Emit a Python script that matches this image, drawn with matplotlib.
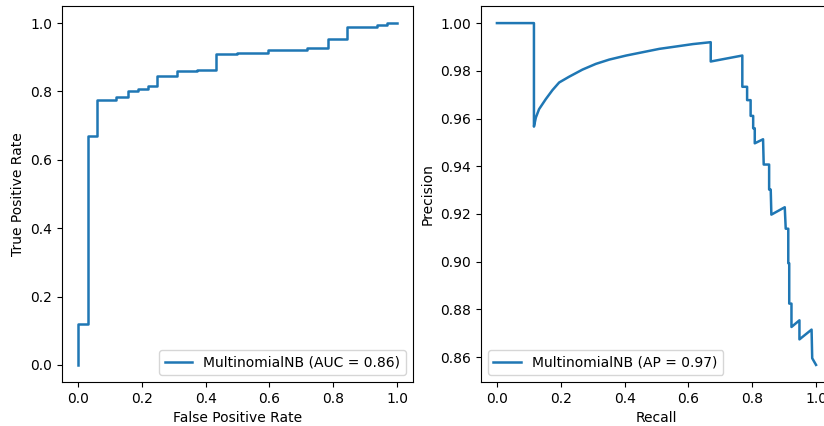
import matplotlib
matplotlib.use("Agg")
import matplotlib.pyplot as plt

# ROC curve corner points
fpr = [0.0, 0.0, 0.031, 0.031, 0.060, 0.060, 0.120, 0.120, 0.157, 0.157,
       0.188, 0.188, 0.219, 0.219, 0.248, 0.248, 0.311, 0.311, 0.374, 0.374,
       0.433, 0.433, 0.500, 0.500, 0.596, 0.596, 0.717, 0.717, 0.783, 0.783,
       0.843, 0.843, 0.938, 0.938, 0.969, 0.969, 1.0]
tpr = [0.0, 0.12, 0.12, 0.669, 0.669, 0.775, 0.775, 0.783, 0.783, 0.800,
       0.800, 0.808, 0.808, 0.815, 0.815, 0.844, 0.844, 0.859, 0.859, 0.864,
       0.864, 0.910, 0.910, 0.913, 0.913, 0.920, 0.920, 0.928, 0.928, 0.953,
       0.953, 0.990, 0.990, 0.995, 0.995, 1.0, 1.0]

# precision-recall curve
recall = [0.0, 0.116, 0.116, 0.122, 0.132, 0.153, 0.174, 0.195, 0.226, 0.268,
          0.310, 0.352, 0.405, 0.457, 0.509, 0.562, 0.614, 0.670, 0.670, 0.769,
          0.769, 0.784, 0.784, 0.795, 0.795, 0.803, 0.803, 0.808, 0.808, 0.834,
          0.836, 0.853, 0.853, 0.858, 0.860, 0.902, 0.905, 0.913, 0.913, 0.916,
          0.916, 0.923, 0.923, 0.948, 0.948, 0.986, 0.988, 1.0]
precision = [1.0, 1.0, 0.9566, 0.9604, 0.9639, 0.9681, 0.9719, 0.9751, 0.9775, 0.9805,
             0.9829, 0.9847, 0.9864, 0.9878, 0.9892, 0.9902, 0.9912, 0.9920, 0.9839, 0.9864,
             0.9733, 0.9733, 0.9677, 0.9677, 0.9611, 0.9611, 0.9559, 0.9559, 0.9496, 0.9513,
             0.9407, 0.9407, 0.9302, 0.9302, 0.9197, 0.9228, 0.9138, 0.9138, 0.8993, 0.8993,
             0.8824, 0.8824, 0.8726, 0.8754, 0.8674, 0.8715, 0.8595, 0.8567]

roc_label = "MultinomialNB (AUC = 0.86)"
pr_label = "MultinomialNB (AP = 0.97)"

plt.rcParams['font.size'] = 10

fig = plt.figure(figsize=(8.24, 4.26), dpi=100)
ax1 = fig.add_axes([0.0752, 0.1033, 0.426, 0.8826])
ax2 = fig.add_axes([0.5837, 0.1033, 0.426, 0.8826])

ax1.plot(fpr, tpr, color='#1f77b4', lw=1.8, label=roc_label)
ax1.set_xlabel('False Positive Rate')
ax1.set_ylabel('True Positive Rate')
ax1.legend(loc='lower right')

ax2.plot(recall, precision, color='#1f77b4', lw=1.8, label=pr_label)
ax2.set_xlabel('Recall')
ax2.set_ylabel('Precision')
ax2.legend(loc='lower left')

fig.savefig('out.png', dpi=100)
